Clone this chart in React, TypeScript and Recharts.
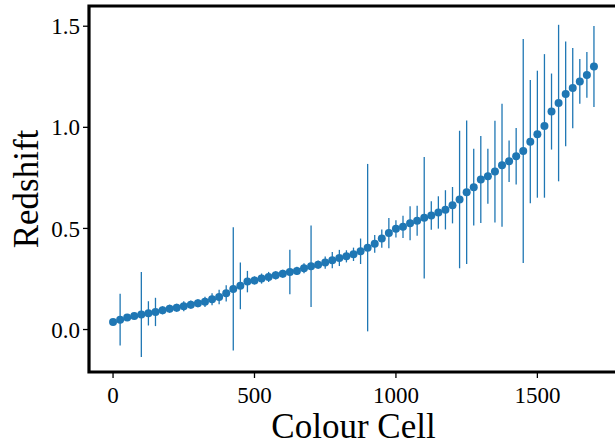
import { ScatterChart, Scatter, XAxis, YAxis, ErrorBar, ReferenceArea } from 'recharts'

// colour cell index
const cells = [
  0, 25, 50, 75, 100, 125, 150, 175, 200, 225, 250, 275, 300, 325, 350, 375, 400, 425, 450, 475,
  500, 525, 550, 575, 600, 625, 650, 675, 700, 725, 750, 775, 800, 825, 850, 875, 900, 925, 950, 975,
  1000, 1025, 1050, 1075, 1100, 1125, 1150, 1175, 1200, 1225, 1250, 1275, 1300, 1325, 1350, 1375,
  1400, 1425, 1450, 1475, 1500, 1525, 1550, 1575, 1600, 1625, 1650, 1675, 1700,
]

const redshift = [
  0.037, 0.049, 0.059, 0.067, 0.074, 0.080, 0.087, 0.095, 0.103, 0.108, 0.115, 0.123, 0.130, 0.137,
  0.150, 0.161, 0.179, 0.201, 0.216, 0.237, 0.243, 0.252, 0.260, 0.268, 0.276, 0.284, 0.290, 0.303,
  0.313, 0.321, 0.331, 0.343, 0.354, 0.362, 0.372, 0.387, 0.405, 0.424, 0.450, 0.477, 0.498, 0.508,
  0.526, 0.538, 0.553, 0.564, 0.579, 0.592, 0.615, 0.643, 0.679, 0.704, 0.742, 0.758, 0.781, 0.812,
  0.832, 0.857, 0.883, 0.929, 0.966, 1.007, 1.078, 1.120, 1.165, 1.194, 1.227, 1.259, 1.301,
]

const errors = [
  0.01, 0.128, 0.015, 0.015, 0.21, 0.06, 0.07, 0.02, 0.02, 0.02, 0.025, 0.02, 0.02, 0.025, 0.03,
  0.036, 0.04, 0.305, 0.116, 0.053, 0.02, 0.025, 0.025, 0.02, 0.02, 0.11, 0.02, 0.025, 0.202, 0.02,
  0.03, 0.04, 0.04, 0.03, 0.033, 0.063, 0.414, 0.044, 0.045, 0.075, 0.043, 0.055, 0.084, 0.074, 0.30,
  0.07, 0.08, 0.097, 0.09, 0.34, 0.355, 0.19, 0.215, 0.136, 0.252, 0.304, 0.103, 0.14, 0.554, 0.305,
  0.314, 0.355, 0.188, 0.387, 0.259, 0.198, 0.111, 0.113, 0.2,
]

const xTicks = [0, 500, 1000, 1500]
const yTicks = [0, 0.5, 1.0, 1.5]

const X_DOMAIN: [number, number] = [-85, 1785]
const Y_DOMAIN: [number, number] = [-0.21, 1.6]

const BLUE = '#1f77b4'
const FONT = '"Liberation Serif", "DejaVu Serif", serif'

const data = cells.map((x, i) => ({ x, y: redshift[i], err: errors[i] }))

const Dot = (props: any) => <circle cx={props.cx} cy={props.cy} r={4} fill={BLUE} />

const YLabel = (props: any) => {
  const vb = props.viewBox || { x: 0, y: 0, height: 0 }
  const cx = vb.x + 38
  const cy = vb.y + vb.height / 2
  return (
    <text
      x={cx}
      y={cy}
      transform={`rotate(-90, ${cx}, ${cy})`}
      textAnchor="middle"
      fontFamily={FONT}
      fontSize={35}
      fill="#000"
    >
      Redshift
    </text>
  )
}

export default function App() {
  return (
    <div style={{ position: 'absolute', left: 0, top: 0, width: 615, height: 445, overflow: 'hidden', background: '#fff' }}>
      <ScatterChart width={620} height={445} margin={{ top: 6, right: 2, bottom: 0, left: 0 }}>
        <XAxis
          type="number"
          dataKey="x"
          domain={X_DOMAIN}
          ticks={xTicks}
          allowDataOverflow
          height={73}
          axisLine={false}
          tickSize={6}
          tickMargin={9}
          tickLine={{ stroke: '#000', strokeWidth: 1.3 }}
          tick={{ fill: '#000', fontSize: 23, fontFamily: FONT }}
          label={{ value: 'Colour Cell', position: 'insideBottom', offset: 7, fill: '#000', fontSize: 35, fontFamily: FONT }}
        />
        <YAxis
          type="number"
          dataKey="y"
          domain={Y_DOMAIN}
          ticks={yTicks}
          allowDataOverflow
          width={89}
          axisLine={false}
          tickSize={6}
          tickMargin={3}
          tickLine={{ stroke: '#000', strokeWidth: 1.3 }}
          tickFormatter={(v: number) => v.toFixed(1)}
          tick={{ fill: '#000', fontSize: 23, fontFamily: FONT }}
          label={<YLabel />}
        />
        <Scatter data={data} dataKey="y" shape={Dot} isAnimationActive={false}>
          <ErrorBar dataKey="err" direction="y" width={0} stroke={BLUE} strokeWidth={1.3} isAnimationActive={false} />
        </Scatter>
        <ReferenceArea
          x1={X_DOMAIN[0]}
          x2={X_DOMAIN[1]}
          y1={Y_DOMAIN[0]}
          y2={Y_DOMAIN[1]}
          fill="none"
          stroke="#000"
          strokeWidth={3.2}
          ifOverflow="visible"
        />
      </ScatterChart>
    </div>
  )
}
